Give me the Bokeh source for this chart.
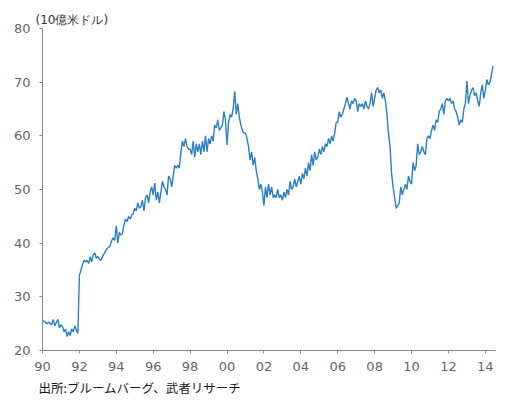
from bokeh.plotting import figure
from bokeh.models import Range1d, FixedTicker, Title, ColumnDataSource
from bokeh.embed import file_html
from bokeh.resources import INLINE

# Monthly values (10億米ドル), Jan 1990 - Jun 2014
v1990 = [25.7, 25.4, 25.2, 25.0, 25.3, 25.0, 24.8, 25.8, 24.6, 25.2, 25.8, 24.2]
v1991 = [24.8, 24.5, 23.5, 24.0, 22.6, 23.5, 22.8, 24.0, 23.5, 24.6, 23.8, 23.2]
v1992 = [34.0, 35.0, 36.0, 36.8, 36.5, 36.8, 36.2, 37.5, 36.5, 37.8, 38.2, 37.2]
v1993 = [37.5, 37.0, 36.8, 37.5, 38.0, 38.5, 39.0, 39.2, 39.5, 40.5, 41.0, 40.5]
v1994 = [43.3, 40.0, 42.0, 41.5, 41.8, 43.5, 44.5, 44.0, 45.0, 44.5, 45.2, 45.5]
v1995 = [46.5, 46.0, 47.5, 46.5, 46.8, 48.0, 46.0, 48.5, 49.0, 47.5, 49.5, 50.5]
v1996 = [49.0, 51.2, 48.0, 49.5, 47.5, 49.5, 51.5, 50.5, 50.0, 49.0, 52.5, 52.0]
v1997 = [50.5, 52.5, 54.5, 54.0, 54.5, 54.0, 57.0, 59.0, 58.0, 59.5, 58.0, 57.5]
v1998 = [57.5, 56.5, 59.0, 56.0, 58.5, 57.0, 58.5, 56.5, 59.0, 57.0, 60.0, 57.0]
v1999 = [59.5, 58.5, 60.0, 59.0, 62.0, 61.5, 63.0, 61.0, 61.5, 62.0, 64.5, 63.0]
v2000 = [58.3, 62.5, 64.0, 63.5, 65.0, 68.3, 64.0, 66.0, 63.5, 62.0, 61.0, 60.5]
v2001 = [60.5, 59.5, 58.0, 55.5, 57.0, 54.5, 56.0, 53.5, 52.0, 50.0, 51.0, 49.5]
v2002 = [47.0, 50.5, 48.5, 51.0, 49.0, 50.5, 48.5, 49.0, 48.5, 50.0, 48.5, 49.0]
v2003 = [48.0, 49.5, 48.5, 50.0, 49.0, 51.5, 50.0, 50.5, 52.0, 50.5, 51.5, 52.5]
v2004 = [51.0, 53.0, 52.0, 54.0, 52.5, 55.0, 53.5, 56.5, 54.5, 57.0, 55.5, 56.0]
v2005 = [57.5, 56.5, 58.0, 57.0, 58.5, 58.0, 59.5, 58.5, 60.0, 59.0, 60.5, 62.5]
v2006 = [62.5, 64.5, 63.5, 64.0, 65.0, 66.0, 67.2, 66.0, 65.0, 66.5, 66.0, 67.0]
v2007 = [66.5, 64.5, 66.0, 65.5, 66.0, 65.0, 66.5, 65.5, 65.0, 66.0, 68.0, 65.5]
v2008 = [67.0, 68.5, 69.0, 68.0, 68.5, 67.0, 68.0, 66.5, 64.0, 60.5, 58.0, 53.0]
v2009 = [50.5, 48.5, 46.5, 47.0, 47.5, 50.5, 49.0, 50.0, 51.0, 50.0, 52.5, 51.5]
v2010 = [51.0, 55.0, 53.5, 54.5, 58.5, 56.5, 57.0, 58.0, 57.0, 56.5, 59.5, 60.0]
v2011 = [59.5, 61.0, 62.0, 61.0, 63.0, 62.5, 64.5, 65.0, 66.0, 64.0, 66.5, 67.0]
v2012 = [66.5, 67.0, 66.0, 66.5, 65.0, 64.5, 63.5, 62.0, 63.0, 62.5, 65.0, 66.0]
v2013 = [70.2, 66.0, 67.5, 68.5, 69.0, 67.5, 68.0, 66.5, 65.5, 68.0, 69.5, 67.0]
v2014 = [68.5, 70.5, 69.5, 70.0, 71.5, 73.0]

years = list(range(1990, 2015))
yearly = [v1990, v1991, v1992, v1993, v1994, v1995, v1996, v1997, v1998, v1999,
          v2000, v2001, v2002, v2003, v2004, v2005, v2006, v2007, v2008, v2009,
          v2010, v2011, v2012, v2013, v2014]

tick_years = [1990, 1992, 1994, 1996, 1998, 2000, 2002, 2004, 2006, 2008, 2010, 2012, 2014]
tick_labels = ["90", "92", "94", "96", "98", "00", "02", "04", "06", "08", "10", "12", "14"]
y_ticks = [20, 30, 40, 50, 60, 70, 80]

unit_label = "(10億米ドル)"
source_label = "出所:ブルームバーグ、武者リサーチ"

xs, ys = [], []
for yr, vals in zip(years, yearly):
    for m, v in enumerate(vals):
        xs.append(yr + m / 12.0)
        ys.append(v)

src = ColumnDataSource(dict(x=xs, y=ys))

p = figure(width=503, height=398, output_backend="svg", toolbar_location=None,
           x_range=Range1d(1990, 2014.55), y_range=Range1d(20, 80),
           min_border_left=42, min_border_right=8, min_border_top=28, min_border_bottom=47)
p.outline_line_color = None
p.xgrid.visible = False
p.ygrid.visible = False
p.background_fill_color = "white"
p.border_fill_color = "white"

p.line("x", "y", source=src, line_color="#2b80c8", line_width=1.4)

FONT = "DejaVu Sans"
for ax in (p.xaxis[0], p.yaxis[0]):
    ax.axis_line_color = "#8a8a8a"
    ax.major_tick_line_color = "#8a8a8a"
    ax.minor_tick_line_color = None
    ax.major_tick_in = 0
    ax.major_tick_out = 3
    ax.major_label_text_font = FONT
    ax.major_label_text_font_size = "13px"
    ax.major_label_text_color = "#666666"

p.xaxis.ticker = FixedTicker(ticks=tick_years)
p.xaxis.major_label_overrides = {t: l for t, l in zip(tick_years, tick_labels)}
p.xaxis.major_label_standoff = 8
p.yaxis.ticker = FixedTicker(ticks=y_ticks)
p.yaxis.major_label_standoff = 9

p.add_layout(Title(text=unit_label, align="left", offset=-7, standoff=4,
                   text_font=FONT, text_font_size="12px", text_color="#333333",
                   text_font_style="normal"), "above")
p.add_layout(Title(text=source_label, align="left", offset=-4, standoff=4,
                   text_font="Noto Sans CJK JP", text_font_size="12.5px", text_color="#1a1a1a",
                   text_font_style="normal"), "below")

open("out.html", "w").write(file_html(p, INLINE))
